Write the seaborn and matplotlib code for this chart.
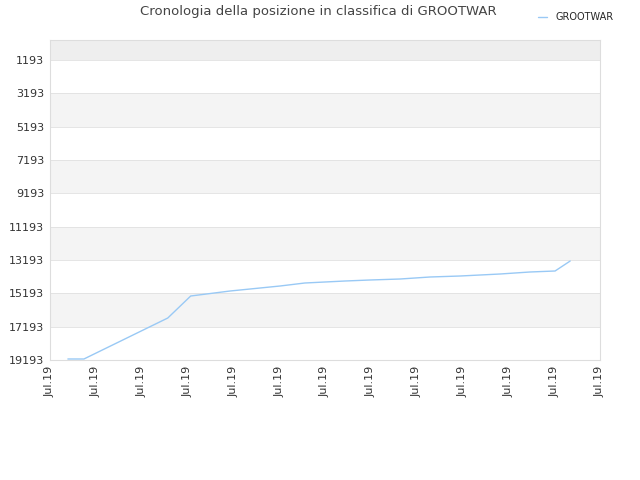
import matplotlib
matplotlib.use("Agg")
import matplotlib.pyplot as plt
import seaborn as sns
import pandas as pd

x_pos = [0.39, 0.74, 2.57, 3.07, 3.93, 5.02, 5.56, 6.0, 6.44, 6.98, 7.64, 8.29, 8.95, 9.82, 10.47, 11.02, 11.35]
rank = [19133, 19133, 16673, 15353, 15053, 14753, 14573, 14513, 14453, 14393, 14333, 14213, 14153, 14033, 13913, 13853, 13253]
yticks = [1193, 3193, 5193, 7193, 9193, 11193, 13193, 15193, 17193, 19193]
xlabels = ["Jul.19"] * 13

sns.set_style("white")
fig = plt.figure(figsize=(6.4, 4.8), dpi=100)
ax = fig.add_axes([50/640, 120/480, 550/640, 320/480])
df = pd.DataFrame({"x": x_pos, "rank": rank})
sns.lineplot(data=df, x="x", y="rank", ax=ax, color="#99c9f5", linewidth=1, label="GROOTWAR")
ax.set_ylim(19193, -7)
ax.set_xlim(0, 12)
# bands
edges = [-7] + yticks
for i in range(len(edges) - 1):
    if i % 2 == 0:
        ax.axhspan(edges[i], edges[i+1], color="#eeeeee" if i == 0 else "#f4f4f4", zorder=0, lw=0)
for y in yticks:
    ax.axhline(y, color="#e0e0e0", lw=0.6, zorder=0.5)
ax.set_yticks(yticks)
ax.set_yticklabels([str(v) for v in yticks], fontsize=8, color="#333333")
ax.set_xticks(range(13))
ax.set_xticklabels(xlabels, rotation=90, fontsize=8, color="#333333")
ax.tick_params(axis="both", length=0, pad=4)
ax.set_xlabel("")
ax.set_ylabel("")
for s in ax.spines.values():
    s.set_color("#dddddd")
    s.set_linewidth(0.8)
leg = ax.legend(loc="upper right", bbox_to_anchor=(1.04, 1.115), frameon=False, fontsize=7, handlelength=1)
fig.text(318/640, 1 - 12/480, "Cronologia della posizione in classifica di GROOTWAR", ha="center", va="center", fontsize=9.5, color="#444444")
fig.savefig("out.png", dpi=100)
